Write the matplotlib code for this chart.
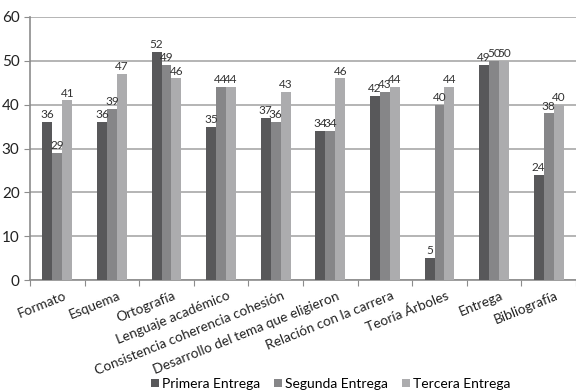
import matplotlib
matplotlib.use("Agg")
import matplotlib.pyplot as plt
import numpy as np

plt.rcParams['font.family'] = ['Lato', 'DejaVu Sans']

categories = ["Formato", "Esquema", "Ortografía", "Lenguaje académico",
              "Consistencia coherencia cohesión", "Desarrollo del tema que eligieron",
              "Relación con la carrera", "Teoría Árboles", "Entrega", "Bibliografía"]
primera = [36, 36, 52, 35, 37, 34, 42, 5, 49, 24]
segunda = [29, 39, 49, 44, 36, 34, 43, 40, 50, 38]
tercera = [41, 47, 46, 44, 43, 46, 44, 44, 50, 40]
series_names = ["Primera Entrega", "Segunda Entrega", "Tercera Entrega"]
colors = ["#58585a", "#868688", "#acacae"]

fig = plt.figure(figsize=(5.76, 3.92), dpi=100)
ax = fig.add_axes([30/576, 1 - 280/392, 546/576, 263/392])

x = np.arange(len(categories))
w = 0.183
for i, (vals, name, c) in enumerate(zip([primera, segunda, tercera], series_names, colors)):
    pos = x + (i - 1) * w
    ax.bar(pos, vals, width=w, color=c, label=name, zorder=3)
    for p, v in zip(pos, vals):
        ax.text(p, v + 0.4, str(v), ha='center', va='bottom', fontsize=8.5,
                color='#333333', zorder=4)

ax.set_xlim(-0.5, len(categories) - 0.5)
ax.set_ylim(0, 60)
ax.set_yticks(range(0, 61, 10))
ax.yaxis.grid(True, color='#a8a8a8', linewidth=1.2, zorder=0)
ax.set_axisbelow(True)
for s in ['top', 'right']:
    ax.spines[s].set_visible(False)
ax.spines['left'].set_color('#8c8c8c')
ax.spines['bottom'].set_color('#8c8c8c')
ax.spines['left'].set_linewidth(1.2)
ax.spines['bottom'].set_linewidth(1.2)

ax.set_xticks(np.arange(len(categories) + 1) - 0.5, minor=False)
ax.set_xticklabels([])
ax.tick_params(axis='x', which='major', length=4, color='#8c8c8c')
ax.set_xticks(x + 0.11, minor=True)
ax.set_xticklabels(categories, minor=True, rotation=22, ha='right',
                   rotation_mode='anchor', fontsize=9.8, color='#222222')
ax.tick_params(axis='x', which='minor', length=0, pad=7)
ax.tick_params(axis='y', length=4, color='#8c8c8c', labelsize=11, labelcolor='#222222')

fig.legend(loc='center', bbox_to_anchor=(331/576, 1 - 384/392), ncol=3, frameon=False,
           fontsize=10, handlelength=0.55, handleheight=0.55, handletextpad=0.25,
           columnspacing=1.0, borderpad=0)

fig.savefig("out.png", dpi=100)
